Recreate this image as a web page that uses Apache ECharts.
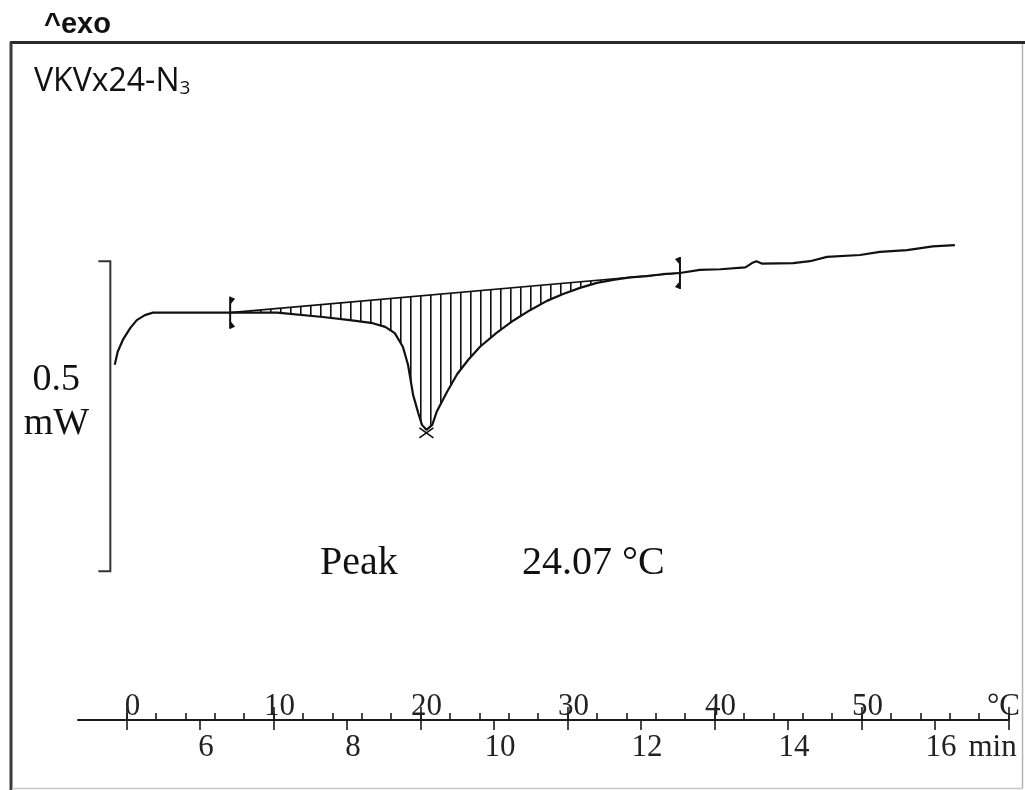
<!DOCTYPE html>
<html>
<head>
<meta charset="utf-8">
<script src="https://cdn.jsdelivr.net/npm/echarts@6/dist/echarts.min.js"></script>
<style>
  html, body { margin: 0; padding: 0; background: #fff; }
  #chart { width: 1025px; height: 790px; }
</style>
</head>
<body>
<div id="chart"></div>
<script>
// DSC heating scan: heat flow (mW) against time (min), with the temperature scale above the time axis

const timeMin = [4.84, 4.88, 4.95, 5.05, 5.14, 5.25, 5.36, 6.00, 6.41, 7.05, 7.67, 8.04, 8.35, 8.52,
  8.65, 8.76, 8.83, 8.90, 8.97, 9.02, 9.08, 9.16, 9.22, 9.36, 9.50, 9.65, 9.81, 10.03, 10.26, 10.49,
  10.72, 10.94, 11.17, 11.40, 11.62, 11.85, 12.08, 12.29, 12.53, 12.80, 13.08, 13.42, 13.51, 13.57,
  13.65, 14.07, 14.30, 14.53, 14.98, 15.25, 15.62, 15.97, 16.27];
const heatFlow = [0.573, 0.594, 0.613, 0.632, 0.645, 0.653, 0.657, 0.657, 0.657, 0.657, 0.650, 0.645,
  0.640, 0.634, 0.624, 0.602, 0.573, 0.524, 0.495, 0.476, 0.468, 0.476, 0.497, 0.529, 0.558, 0.581,
  0.602, 0.624, 0.644, 0.661, 0.676, 0.687, 0.697, 0.705, 0.710, 0.714, 0.716, 0.719, 0.721, 0.726,
  0.727, 0.730, 0.737, 0.740, 0.736, 0.737, 0.740, 0.747, 0.750, 0.755, 0.758, 0.764, 0.766];

// integration limits (min); the baseline joins the curve at these two times
const integrationLimits = [6.41, 12.53];

const minuteTicks = [5, 6, 7, 8, 9, 10, 11, 12, 13, 14, 15, 16, 17];
const minuteLabels = [6, 8, 10, 12, 14, 16];
const tempTicks = [0, 2, 4, 6, 8, 10, 12, 14, 16, 18, 20, 22, 24, 26, 28, 30, 32, 34, 36, 38, 40,
  42, 44, 46, 48, 50, 52, 54, 56, 58, 60];
const tempLabels = [0, 10, 20, 30, 40, 50, 60];

const heatingRate = 5;     // °C per min
const zeroTempTime = 5;    // min at which the temperature scale reads 0 °C
const timeRange = [4.34, 17];
const heatFlowRange = [0, 1.1];

// scale bar: time position, lower end (mW), span (mW)
const scaleBar = [4.78, 0.24, 0.5];

const sampleName = 'VKVx24-N';
const sampleSub = '3';
const peakText = ['Peak', '24.07 °C'];

const SERIF = '"Liberation Serif", "Times New Roman", serif';
const INK = '#111';

const tempRange = timeRange.map(t => heatingRate * (t - zeroTempTime));

// vertical hatching used to shade the integrated peak area
const hatchCanvas = document.createElement('canvas');
hatchCanvas.width = 10;
hatchCanvas.height = 10;
(function () {
  const ctx = hatchCanvas.getContext('2d');
  ctx.fillStyle = INK;
  ctx.fillRect(0, 0, 1.6, 10);
})();
const hatchFill = { type: 'pattern', image: hatchCanvas, repeat: 'repeat' };

const curveData = timeMin.map((t, i) => [t, heatFlow[i]]);
const limitPoints = integrationLimits.map(t => [t, heatFlow[timeMin.indexOf(t)]]);
let peakIndex = 0;
heatFlow.forEach((v, i) => { if (v < heatFlow[peakIndex]) peakIndex = i; });

function hatchArea(params, api) {
  const pts = [];
  for (let i = 0; i < timeMin.length; i++) {
    if (timeMin[i] >= integrationLimits[0] && timeMin[i] <= integrationLimits[1]) {
      pts.push(api.coord([timeMin[i], heatFlow[i]]));
    }
  }
  return { type: 'polygon', shape: { points: pts }, style: { fill: hatchFill, stroke: null }, silent: true };
}

function limitMarker(params, api) {
  const p = api.coord([api.value(0), api.value(1)]);
  const dir = params.dataIndex === 0 ? 1 : -1;
  const h = 16;
  return {
    type: 'group',
    children: [
      { type: 'line', shape: { x1: p[0], y1: p[1] - h, x2: p[0], y2: p[1] + h }, style: { stroke: INK, lineWidth: 2 } },
      { type: 'polygon', shape: { points: [[p[0], p[1] - h], [p[0] + dir * 5, p[1] - h + 2], [p[0], p[1] - h + 8]] }, style: { fill: INK } },
      { type: 'polygon', shape: { points: [[p[0], p[1] + h], [p[0] + dir * 5, p[1] + h - 2], [p[0], p[1] + h - 8]] }, style: { fill: INK } }
    ]
  };
}

function peakCross(params, api) {
  const p = api.coord([api.value(0), api.value(1)]);
  const cx = p[0], cy = p[1] + 3;
  return {
    type: 'group',
    children: [
      { type: 'line', shape: { x1: cx - 7, y1: cy - 5, x2: cx + 7, y2: cy + 5 }, style: { stroke: INK, lineWidth: 1.6 } },
      { type: 'line', shape: { x1: cx + 7, y1: cy - 5, x2: cx - 7, y2: cy + 5 }, style: { stroke: INK, lineWidth: 1.6 } }
    ]
  };
}

function scaleBarItem(params, api) {
  const t = api.value(0), lo = api.value(1), span = api.value(2);
  const top = api.coord([t, lo + span]);
  const bot = api.coord([t, lo]);
  const x = top[0];
  return {
    type: 'group',
    children: [
      { type: 'polyline', shape: { points: [[x - 12, top[1]], [x, top[1]], [x, bot[1]], [x - 12, bot[1]]] },
        style: { stroke: '#333', lineWidth: 2, fill: null } },
      { type: 'text', x: x - 54, y: (top[1] + bot[1]) / 2 - 14,
        style: { text: span + '\nmW', align: 'center', verticalAlign: 'middle', fontFamily: SERIF,
          fontSize: 38, lineHeight: 44, fill: INK } }
    ]
  };
}

const chart = echarts.init(document.getElementById('chart'), null, { renderer: 'canvas' });

chart.setOption({
  animation: false,
  backgroundColor: '#fff',
  title: [
    { text: '^exo', left: 44, top: 10, padding: 0,
      textStyle: { fontFamily: '"Liberation Sans", Arial, sans-serif', fontWeight: 'bold', fontSize: 29, color: INK } },
    { text: '{a|' + sampleName + '}{s|' + sampleSub + '}', left: 34, top: 60, padding: 0,
      textStyle: { fontWeight: 'normal', rich: {
        a: { fontFamily: '"Open Sans", sans-serif', fontWeight: 'normal', fontSize: 32, lineHeight: 38, color: INK, verticalAlign: 'bottom' },
        s: { fontFamily: '"Open Sans", sans-serif', fontWeight: 'normal', fontSize: 19, lineHeight: 30, color: INK, verticalAlign: 'bottom' }
      } } }
  ],
  grid: { left: 78, right: 16.5, top: 38, bottom: 70, containLabel: false },
  xAxis: [
    {
      type: 'value', min: timeRange[0], max: timeRange[1], position: 'bottom',
      axisLine: { show: true, onZero: false, lineStyle: { color: '#1a1a1a', width: 2 } },
      axisTick: { show: true, inside: false, length: 10, customValues: minuteTicks, lineStyle: { color: '#1a1a1a', width: 1.6 } },
      axisLabel: {
        customValues: minuteLabels, margin: 12, formatter: v => '{n|' + v + '}',
        rich: { n: { fontFamily: SERIF, fontSize: 31, color: '#222', padding: [0, 0, 0, 12] } }
      },
      splitLine: { show: false },
      name: 'min', nameLocation: 'end', nameGap: -40,
      nameTextStyle: { fontFamily: SERIF, fontSize: 31, color: '#222', align: 'left', verticalAlign: 'top', padding: [12, 0, 0, 0] }
    },
    {
      type: 'value', min: tempRange[0], max: tempRange[1], position: 'bottom',
      axisLine: { show: false, onZero: false },
      axisTick: { show: true, inside: true, length: 7, customValues: tempTicks, lineStyle: { color: '#1a1a1a', width: 1.6 } },
      axisLabel: {
        inside: true, customValues: tempLabels, margin: -2,
        formatter: v => v === tempLabels[tempLabels.length - 1] ? '{u|°C}' : '{n|' + v + '}',
        rich: {
          n: { fontFamily: SERIF, fontSize: 31, color: '#222', padding: [0, 0, 0, 12] },
          u: { fontFamily: SERIF, fontSize: 31, color: '#222', padding: [0, 10, 0, 0] }
        }
      },
      splitLine: { show: false }
    },
    {
      type: 'value', min: tempRange[0], max: tempRange[1], position: 'bottom',
      axisLine: { show: false, onZero: false },
      axisTick: { show: true, inside: true, length: 13, customValues: tempLabels, lineStyle: { color: '#1a1a1a', width: 1.6 } },
      axisLabel: { show: false },
      splitLine: { show: false }
    }
  ],
  yAxis: { type: 'value', min: heatFlowRange[0], max: heatFlowRange[1], show: false },
  series: [
    { type: 'custom', name: 'area', coordinateSystem: 'cartesian2d', renderItem: hatchArea,
      data: [integrationLimits], encode: { x: [0, 1] }, z: 1, silent: true },
    { type: 'line', name: 'baseline', data: limitPoints, showSymbol: false, symbol: 'none',
      lineStyle: { color: INK, width: 1.6 }, z: 2, silent: true },
    { type: 'line', name: 'heat flow', data: curveData, showSymbol: false, symbol: 'none',
      lineStyle: { color: INK, width: 2.2 }, z: 3, silent: true },
    { type: 'custom', name: 'limits', coordinateSystem: 'cartesian2d', renderItem: limitMarker,
      data: limitPoints, z: 4, silent: true },
    { type: 'custom', name: 'peak', coordinateSystem: 'cartesian2d', renderItem: peakCross,
      data: [curveData[peakIndex]], z: 4, silent: true },
    { type: 'custom', name: 'scale', coordinateSystem: 'cartesian2d', renderItem: scaleBarItem,
      data: [scaleBar], encode: { x: 0, y: 1 }, z: 4, silent: true }
  ],
  graphic: [
    { type: 'text', x: 320, y: 563, z: 10,
      style: { text: peakText[0], fontFamily: SERIF, fontSize: 40, fill: INK, align: 'left', verticalAlign: 'middle' } },
    { type: 'text', x: 522, y: 563, z: 10,
      style: { text: peakText[1], fontFamily: SERIF, fontSize: 40, fill: INK, align: 'left', verticalAlign: 'middle' } },
    // frame
    { type: 'rect', z: 100, shape: { x: 1022, y: 0, width: 3, height: 790 }, style: { fill: '#fff' } },
    { type: 'line', z: 101, shape: { x1: 10, y1: 42.5, x2: 1025, y2: 42.5 }, style: { stroke: '#2a2a2a', lineWidth: 3 } },
    { type: 'line', z: 101, shape: { x1: 11, y1: 42, x2: 11, y2: 790 }, style: { stroke: '#3a3a3a', lineWidth: 3 } },
    { type: 'line', z: 101, shape: { x1: 1022.5, y1: 44, x2: 1022.5, y2: 788 }, style: { stroke: '#b5b5b5', lineWidth: 1.5 } },
    { type: 'line', z: 101, shape: { x1: 12, y1: 788.5, x2: 1023, y2: 788.5 }, style: { stroke: '#c8c8c8', lineWidth: 1.5 } }
  ]
});
</script>
</body>
</html>
